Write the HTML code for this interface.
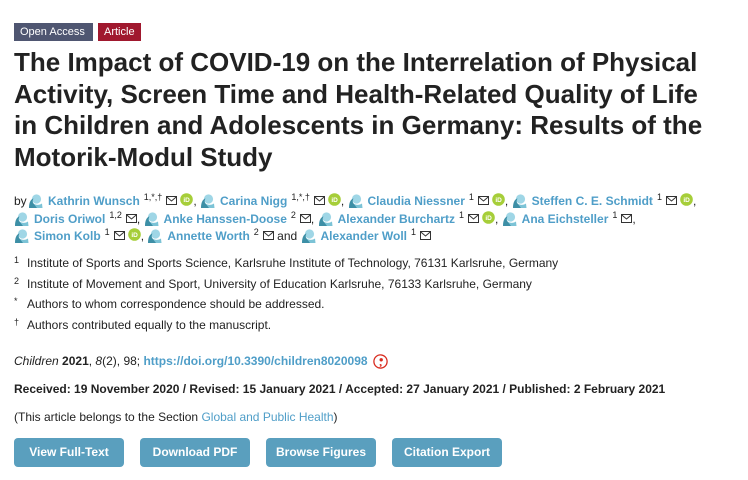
<!DOCTYPE html>
<html><head><meta charset="utf-8">
<style>
*{margin:0;padding:0;box-sizing:border-box}
html,body{width:748px;height:480px;background:#fff;overflow:hidden}
body{font-family:"Liberation Sans",Arial,sans-serif;color:#222;position:relative}
.abs{position:absolute;white-space:nowrap}
.tag{position:absolute;top:23px;height:18px;font-size:11px;line-height:18px;color:#fff;padding:0 6px}
.title{position:absolute;left:14px;top:47px;font-size:26px;line-height:31.7px;font-weight:bold;color:#222;white-space:nowrap}
.row{position:absolute;left:14px;font-size:12px;line-height:17.5px;white-space:nowrap;color:#222}
.n{color:#4f9ec8;font-weight:bold}
.sup{font-size:9px;vertical-align:5px;margin:0 3px 0 4px;color:#222}
svg{vertical-align:-3px}
.av{display:inline-block;width:15px;height:15px;vertical-align:-3px;margin:0 5px 0 0}
.ml{display:inline-block;width:11px;height:9px;vertical-align:0px;margin-left:1px}
.oc{display:inline-block;width:13px;height:13px;vertical-align:-1px;margin-left:3px}
.aff{position:absolute;left:14px;font-size:12px;white-space:nowrap;color:#222}
.aff sup{font-size:9px;position:absolute;left:0;top:-1px}
.aff span{position:absolute;left:13px;top:0}
.btn{position:absolute;top:438px;width:110px;height:29px;background:#5a9fbe;border-radius:4px;color:#fff;font-weight:bold;font-size:12px;line-height:29px;text-align:center}
a{color:#4f9ec8;text-decoration:none}
</style></head><body>
<svg width="0" height="0" style="position:absolute">
<defs>
<symbol id="av" viewBox="0 0 15 15"><circle cx="8.5" cy="6" r="4.6" fill="#9fd6e6"/><path d="M1 15 C1 9 3 6 5.5 5.5 C4 8 4.5 11 8 12 L12 13 C13 14 13 15 13 15Z" fill="#3d8fa6"/><path d="M5.5 10.5 C8 12.5 12 12 14 10.5 L14.5 15 L9 15Z" fill="#7cc3d6"/></symbol>
<symbol id="ml" viewBox="0 0 11 9"><rect x="0.5" y="0.5" width="10" height="8" fill="#fff" stroke="#333" stroke-width="1"/><path d="M0.8 1 L5.5 5 L10.2 1" fill="none" stroke="#333" stroke-width="1"/></symbol>
<symbol id="oc" viewBox="0 0 13 13"><circle cx="6.5" cy="6.5" r="6.3" fill="#a6ce39"/><text x="6.6" y="9" font-size="6.5" font-family="Liberation Sans,sans-serif" fill="#fff" text-anchor="middle" font-weight="bold">iD</text></symbol>
</defs></svg>

<div class="tag" style="left:14px;width:79px;background:#4f5671">Open Access</div>
<div class="tag" style="left:98px;width:43px;background:#a0182e">Article</div>

<div class="title">The Impact of COVID-19 on the Interrelation of Physical<br>Activity, Screen Time and Health-Related Quality of Life<br>in Children and Adolescents in Germany: Results of the<br>Motorik-Modul Study</div>

<div class="row" style="top:189px">by <svg class="av" style="margin-left:-2px"><use href="#av"/></svg><span class="n">Kathrin Wunsch</span><span class="sup">1,*,†</span><svg class="ml"><use href="#ml"/></svg><svg class="oc"><use href="#oc"/></svg>, <svg class="av"><use href="#av"/></svg><span class="n">Carina Nigg</span><span class="sup">1,*,†</span><svg class="ml"><use href="#ml"/></svg><svg class="oc"><use href="#oc"/></svg>, <svg class="av"><use href="#av"/></svg><span class="n">Claudia Niessner</span><span class="sup">1</span><svg class="ml"><use href="#ml"/></svg><svg class="oc"><use href="#oc"/></svg>, <svg class="av"><use href="#av"/></svg><span class="n">Steffen C. E. Schmidt</span><span class="sup">1</span><svg class="ml"><use href="#ml"/></svg><svg class="oc"><use href="#oc"/></svg>,</div>

<div class="row" style="top:206.5px"><svg class="av" style="margin-left:0"><use href="#av"/></svg><span class="n">Doris Oriwol</span><span class="sup">1,2</span><svg class="ml"><use href="#ml"/></svg>, <svg class="av"><use href="#av"/></svg><span class="n">Anke Hanssen-Doose</span><span class="sup">2</span><svg class="ml"><use href="#ml"/></svg>, <svg class="av"><use href="#av"/></svg><span class="n">Alexander Burchartz</span><span class="sup">1</span><svg class="ml"><use href="#ml"/></svg><svg class="oc"><use href="#oc"/></svg>, <svg class="av"><use href="#av"/></svg><span class="n">Ana Eichsteller</span><span class="sup">1</span><svg class="ml"><use href="#ml"/></svg>,</div>

<div class="row" style="top:224px"><svg class="av" style="margin-left:0"><use href="#av"/></svg><span class="n">Simon Kolb</span><span class="sup">1</span><svg class="ml"><use href="#ml"/></svg><svg class="oc"><use href="#oc"/></svg>, <svg class="av"><use href="#av"/></svg><span class="n">Annette Worth</span><span class="sup">2</span><svg class="ml"><use href="#ml"/></svg> and <svg class="av"><use href="#av"/></svg><span class="n">Alexander Woll</span><span class="sup">1</span><svg class="ml"><use href="#ml"/></svg></div>

<div class="aff" style="top:256px"><sup>1</sup><span>Institute of Sports and Sports Science, Karlsruhe Institute of Technology, 76131 Karlsruhe, Germany</span></div>
<div class="aff" style="top:276.5px"><sup>2</sup><span>Institute of Movement and Sport, University of Education Karlsruhe, 76133 Karlsruhe, Germany</span></div>
<div class="aff" style="top:297px"><sup>*</sup><span>Authors to whom correspondence should be addressed.</span></div>
<div class="aff" style="top:317.5px"><sup>†</sup><span>Authors contributed equally to the manuscript.</span></div>

<div class="abs" style="left:14px;top:354px;font-size:12px"><i>Children</i> <b>2021</b>, <i>8</i>(2), 98; <a style="font-weight:bold">https://doi.org/10.3390/children8020098</a> <svg width="15" height="15" viewBox="0 0 15 15" style="vertical-align:-4px;margin-left:2px"><circle cx="7.5" cy="7.5" r="6.6" fill="#fff" stroke="#d92c20" stroke-width="1.3"/><text x="7.6" y="11.5" font-size="12" font-weight="bold" font-family="Liberation Serif,serif" fill="#d92c20" text-anchor="middle">,</text><circle cx="8.2" cy="5.8" r="1.7" fill="#d92c20"/></svg></div>

<div class="abs" style="left:14px;top:382px;font-size:12px;font-weight:bold">Received: 19 November 2020 / Revised: 15 January 2021 / Accepted: 27 January 2021 / Published: 2 February 2021</div>

<div class="abs" style="left:14px;top:410px;font-size:12px">(This article belongs to the Section <a>Global and Public Health</a>)</div>

<div class="btn" style="left:14px">View Full-Text</div>
<div class="btn" style="left:140px">Download PDF</div>
<div class="btn" style="left:266px">Browse Figures</div>
<div class="btn" style="left:392px">Citation Export</div>
</body></html>
